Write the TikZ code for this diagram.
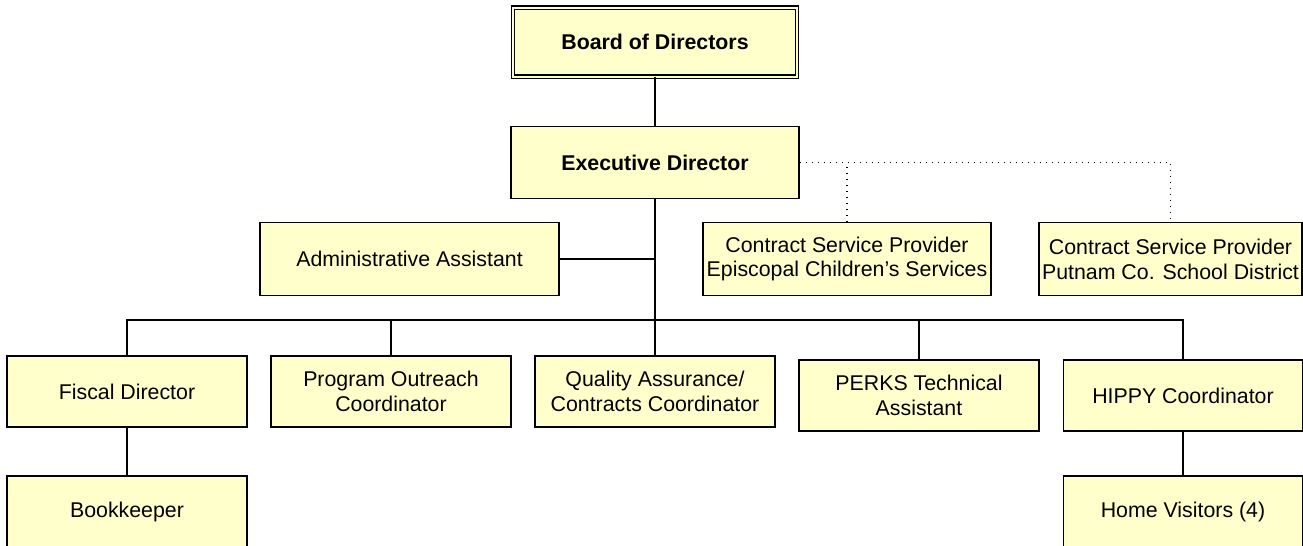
\documentclass[tikz,border=0pt]{standalone}
\usepackage{fontspec}
\setmainfont{Liberation Sans}
\usetikzlibrary{positioning}
\definecolor{boxfill}{HTML}{FFFFCC}

\begin{document}
\begin{tikzpicture}[x=0.75pt,y=-0.75pt,
  orgbox/.style={draw,line width=1.2pt,fill=boxfill,align=center,inner sep=0pt,
    minimum width=180pt,minimum height=53.5pt,font=\fontsize{16}{18.7}\selectfont},
  wide/.style={minimum width=216pt,minimum height=54pt},
  link/.style={line width=1.3pt},
  dotline/.style={line width=1.1pt,dash pattern=on 0.9pt off 3.6pt}]
 \useasboundingbox (0,0) rectangle (1303,546);
 \node[orgbox,minimum width=213pt,minimum height=51.75pt,line width=0.95pt,double=boxfill,double distance=1.5pt,font=\fontsize{16}{18.7}\selectfont\bfseries] (board) at (655,42) {Board of Directors};
 \node[orgbox,wide,font=\fontsize{16}{18.7}\selectfont\bfseries] (exec) at (655,162.5) {Executive Director};
 \node[orgbox,minimum width=224.25pt,minimum height=54.75pt] (admin) at (409.5,259) {Administrative Assistant};
 \node[orgbox,minimum width=216pt,minimum height=54.75pt] (ecs) at (847,259) {Contract Service Provider\\Episcopal Children’s Services};
 \node[orgbox,minimum width=197.25pt,minimum height=54.75pt] (putnam) at (1170.5,259) {Contract Service Provider\\Putnam Co. School District};
 \node[orgbox] (fiscal) at (127,391.5) {Fiscal Director};
 \node[orgbox] (outreach) at (391,391.5) {Program Outreach\\Coordinator};
 \node[orgbox] (quality) at (655,391.5) {Quality Assurance/\\Contracts Coordinator};
 \node[orgbox] (perks) at (919,395.5) {PERKS Technical\\Assistant};
 \node[orgbox,minimum width=179.25pt] (hippy) at (1183,395.5) {HIPPY Coordinator};
 \node[orgbox] (bookkeeper) at (127,511.5) {Bookkeeper};
 \node[orgbox,minimum width=179.25pt] (visitors) at (1183,511.5) {Home Visitors (4)};
 \coordinate (bus) at (655,320);
 \draw[link] (board) -- (exec);
 \draw[link] (exec) -- (quality);
 \draw[link] (admin.east) -- (admin.east -| exec.south);
 \draw[link] (fiscal.north) |- (bus) -| (hippy.north);
 \draw[link] (outreach.north) -- (outreach.north |- bus);
 \draw[link] (perks.north) -- (perks.north |- bus);
 \draw[link] (fiscal) -- (bookkeeper);
 \draw[link] (hippy) -- (visitors);
 \draw[dotline] (exec.east) -| (putnam.north);
 \draw[dotline] (ecs.north) -- (ecs.north |- exec.east);
\end{tikzpicture}
\end{document}
